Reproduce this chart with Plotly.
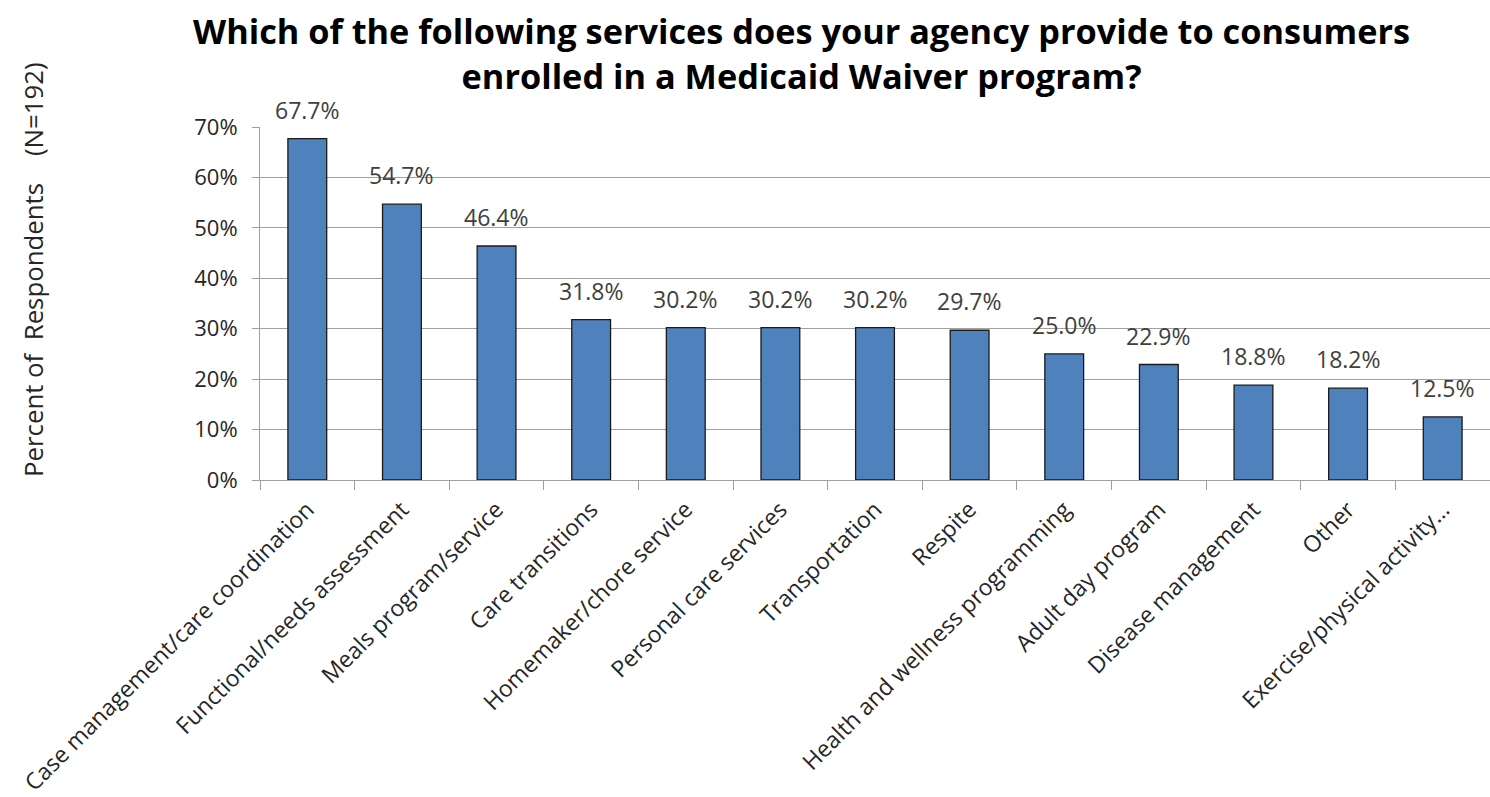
import plotly.graph_objects as go

categories = [
    "Case management/care coordination",
    "Functional/needs assessment",
    "Meals program/service",
    "Care transitions",
    "Homemaker/chore service",
    "Personal care services",
    "Transportation",
    "Respite",
    "Health and wellness programming",
    "Adult day program",
    "Disease management",
    "Other",
    "Exercise/physical activity…",
]
percent = [67.7, 54.7, 46.4, 31.8, 30.2, 30.2, 30.2, 29.7, 25.0, 22.9, 18.8, 18.2, 12.5]
y_ticks = [0, 10, 20, 30, 40, 50, 60, 70]
y_tick_labels = [f"{v}%" for v in y_ticks]

FONT = "Open Sans, sans-serif"
TEXT_COLOR = "#262626"

# plot-area geometry in pixels
W, H = 1490, 797
L, R, T, B = 260, 0, 127, 317
plot_w = W - L - R
plot_h = H - T - B


def px_to_paper(px, py):
    """Convert page pixel coordinates into paper coordinates of the plot area."""
    return (px - L) / plot_w, (H - B - py) / plot_h


fig = go.Figure(
    go.Bar(
        x=categories,
        y=percent,
        marker=dict(color="#4F81BD", line=dict(color="#1a1a1a", width=1.3)),
        hoverinfo="x+y",
    )
)

# value labels sitting above each bar
for cat, val in zip(categories, percent):
    fig.add_annotation(
        x=cat, y=val, xref="x", yref="y",
        text=f"{val:.1f}%", showarrow=False,
        xanchor="center", yanchor="bottom", yshift=11,
        font=dict(family=FONT, size=23, color="#404040"),
    )

tx, ty = px_to_paper(801, 5)
lx, ly = px_to_paper(33, 270)

fig.add_annotation(
    text="Which of the following services does your agency provide to consumers<br>enrolled in a Medicaid Waiver program?",
    x=tx, y=ty, xref="paper", yref="paper", showarrow=False,
    xanchor="center", yanchor="top",
    font=dict(family=FONT, size=34.3, color="black", weight="bold"),
)
fig.add_annotation(
    text="Percent of  Respondents    (N=192)",
    x=lx, y=ly, xref="paper", yref="paper", showarrow=False, textangle=-90,
    xanchor="center", yanchor="middle",
    font=dict(family=FONT, size=25.8, color=TEXT_COLOR),
)

fig.update_layout(
    width=W,
    height=H,
    paper_bgcolor="white",
    plot_bgcolor="white",
    margin=dict(l=L, r=R, t=T, b=B),
    bargap=0.59,
    showlegend=False,
    font=dict(family=FONT, color=TEXT_COLOR),
)

fig.update_yaxes(
    range=[0, 70],
    tickmode="array",
    tickvals=y_ticks,
    ticktext=y_tick_labels,
    showgrid=True,
    gridcolor="#a0a0a0",
    gridwidth=1,
    showline=True,
    linecolor="#a0a0a0",
    linewidth=1,
    ticks="outside",
    ticklen=7,
    tickcolor="#a0a0a0",
    ticklabelstandoff=10,
    tickfont=dict(family=FONT, size=22, color=TEXT_COLOR),
    zeroline=False,
)
fig.update_xaxes(
    type="category",
    tickangle=-45,
    showline=True,
    linecolor="#a0a0a0",
    linewidth=1,
    ticks="outside",
    tickson="boundaries",
    ticklen=9,
    tickcolor="#a0a0a0",
    ticklabelstandoff=6,
    tickfont=dict(family=FONT, size=23, color=TEXT_COLOR),
)

fig.write_html("out.html")
